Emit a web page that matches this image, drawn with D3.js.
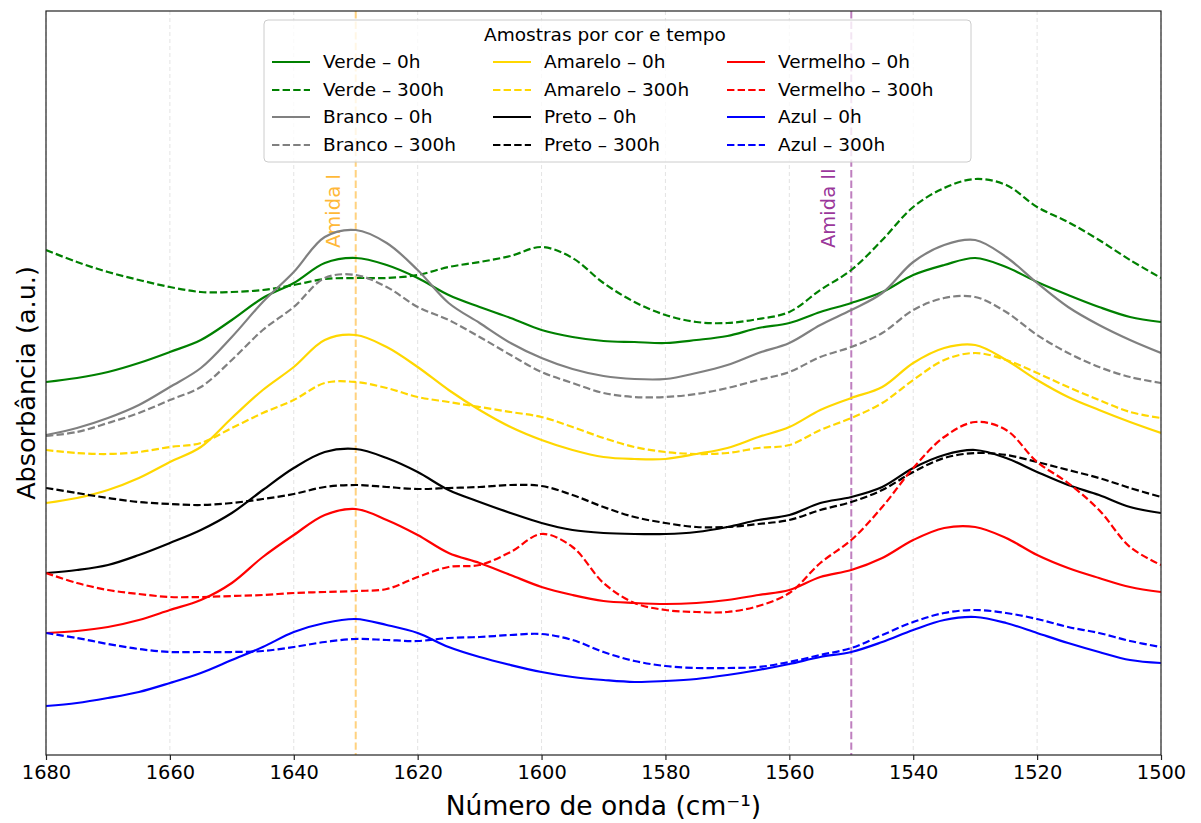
<!DOCTYPE html>
<html lang="pt">
<head>
    <meta charset="utf-8" />
    <title>Absorbância FTIR</title>
    <script src="https://cdn.jsdelivr.net/npm/d3@7"></script>
    <style>
        body { margin: 0; background: #fff; }
        svg { font-family: "DejaVu Sans", sans-serif; }
    </style>
</head>
<body>
    <div id="chart"></div>
    <script>
        // wavenumbers (cm-1), one sample every 5
        const wavenumbers = [1680, 1675, 1670, 1665, 1660, 1655, 1650, 1645, 1640, 1635, 1630, 1625, 1620,
            1615, 1610, 1605, 1600, 1595, 1590, 1585, 1580, 1575, 1570, 1565, 1560, 1555, 1550,
            1545, 1540, 1535, 1530, 1525, 1520, 1515, 1510, 1505, 1500];

        const verde0 = [.373, .377, .383, .392, .403, .415, .435, .457, .472, .492, .497, .490, .477, .460, .448, .437, .425, .418, .414, .413, .412, .415, .419, .427, .432, .443, .452, .463, .480, .490, .497, .488, .473, .460, .448, .438, .433];
        const verde300 = [.505, .493, .483, .475, .468, .463, .463, .465, .470, .476, .477, .477, .480, .488, .493, .499, .508, .497, .472, .453, .440, .433, .432, .436, .443, .465, .485, .515, .548, .567, .576, .570, .548, .533, .515, .495, .477];
        const branco0 = [.320, .327, .337, .350, .368, .387, .418, .453, .483, .518, .525, .512, .485, .452, .432, .412, .397, .386, .379, .376, .376, .382, .390, .402, .412, .430, .445, .462, .493, .510, .515, .498, .472, .448, .430, .415, .402];
        const branco300 = [.319, .323, .332, .342, .355, .368, .395, .425, .448, .477, .480, .468, .448, .435, .418, .400, .383, .372, .362, .358, .358, .361, .367, .375, .383, .398, .408, .422, .445, .457, .458, .443, .420, .402, .388, .378, .372];
        const amarelo0 = [.252, .257, .265, .277, .293, .308, .337, .365, .388, .415, .420, .408, .388, .365, .345, .328, .315, .305, .298, .296, .296, .301, .307, .318, .328, .345, .357, .368, .392, .407, .410, .395, .375, .358, .345, .333, .322];
        const amarelo300 = [.305, .302, .301, .303, .308, .312, .327, .342, .355, .372, .373, .367, .358, .353, .348, .343, .338, .328, .317, .308, .303, .301, .302, .307, .310, .325, .337, .352, .375, .395, .402, .395, .382, .368, .355, .343, .337];
        const preto0 = [.182, .185, .190, .200, .212, .225, .242, .265, .287, .303, .306, .297, .283, .265, .253, .242, .232, .225, .222, .221, .221, .223, .228, .235, .240, .252, .258, .268, .287, .300, .305, .297, .283, .270, .260, .248, .242];
        const preto300 = [.267, .262, .257, .253, .251, .250, .252, .256, .261, .268, .270, .268, .266, .267, .268, .270, .269, .260, .248, .238, .232, .228, .228, .231, .235, .245, .253, .265, .283, .297, .302, .300, .293, .285, .277, .267, .258];
        const vermelho0 = [.122, .124, .128, .135, .145, .155, .172, .198, .220, .240, .246, .235, .220, .202, .192, .180, .168, .160, .154, .152, .151, .152, .155, .160, .165, .178, .185, .197, .215, .227, .228, .217, .200, .187, .177, .168, .163];
        const vermelho300 = [.182, .172, .165, .161, .158, .158, .159, .160, .162, .163, .164, .166, .178, .188, .190, .203, .221, .208, .172, .152, .145, .143, .143, .149, .162, .192, .215, .248, .287, .318, .333, .325, .293, .272, .245, .208, .190];
        const azul0 = [.049, .052, .057, .063, .072, .082, .095, .108, .123, .132, .136, .130, .122, .108, .098, .090, .083, .078, .075, .073, .074, .076, .080, .085, .091, .098, .103, .113, .125, .135, .138, .132, .122, .112, .103, .095, .092];
        const azul300 = [.122, .117, .111, .106, .103, .103, .103, .104, .108, .113, .116, .115, .114, .117, .118, .120, .121, .115, .103, .094, .089, .087, .087, .088, .093, .100, .107, .120, .133, .142, .145, .142, .136, .128, .122, .114, .108];

        const xTicks = [1680, 1660, 1640, 1620, 1600, 1580, 1560, 1540, 1520, 1500];
        const bands = [
            { name: "Amida I", x: 1630, color: "#FFA500" },
            { name: "Amida II", x: 1550, color: "#800080" }
        ];

        // legend order follows the columns: verde, branco | amarelo, preto | vermelho, azul
        const series = [
            { label: "Verde – 0h", values: verde0, color: "green", dash: false },
            { label: "Verde – 300h", values: verde300, color: "green", dash: true },
            { label: "Branco – 0h", values: branco0, color: "gray", dash: false },
            { label: "Branco – 300h", values: branco300, color: "gray", dash: true },
            { label: "Amarelo – 0h", values: amarelo0, color: "#FFD700", dash: false },
            { label: "Amarelo – 300h", values: amarelo300, color: "#FFD700", dash: true },
            { label: "Preto – 0h", values: preto0, color: "black", dash: false },
            { label: "Preto – 300h", values: preto300, color: "black", dash: true },
            { label: "Vermelho – 0h", values: vermelho0, color: "red", dash: false },
            { label: "Vermelho – 300h", values: vermelho300, color: "red", dash: true },
            { label: "Azul – 0h", values: azul0, color: "blue", dash: false },
            { label: "Azul – 300h", values: azul300, color: "blue", dash: true }
        ];

        var width = 1201, height = 823;
        var margin = { top: 11, right: 40, bottom: 68, left: 46 };

        var svg = d3.select("#chart").append("svg")
            .attr("width", width)
            .attr("height", height);

        var x = d3.scaleLinear().domain([1680, 1500]).range([margin.left, width - margin.right]);
        var y = d3.scaleLinear().domain([0, 0.744]).range([height - margin.bottom, margin.top]);

        svg.append("clipPath").attr("id", "plot")
            .append("rect")
            .attr("x", margin.left).attr("y", margin.top)
            .attr("width", x.range()[1] - margin.left)
            .attr("height", y.range()[0] - margin.top);

        //grid lines
        svg.append("g")
            .selectAll("line")
            .data(xTicks)
            .enter().append("line")
            .attr("x1", d => x(d)).attr("x2", d => x(d))
            .attr("y1", y.range()[1]).attr("y2", y.range()[0])
            .attr("stroke", "#b0b0b0")
            .attr("stroke-opacity", 0.35)
            .attr("stroke-width", 1)
            .attr("stroke-dasharray", "4,3");

        //band markers
        svg.append("g")
            .selectAll("line")
            .data(bands)
            .enter().append("line")
            .attr("x1", d => x(d.x)).attr("x2", d => x(d.x))
            .attr("y1", y.range()[1]).attr("y2", y.range()[0])
            .attr("stroke", d => d.color)
            .attr("stroke-opacity", 0.5)
            .attr("stroke-width", 2)
            .attr("stroke-dasharray", "7.4,3.2");

        svg.append("g")
            .selectAll("text")
            .data(bands)
            .enter().append("text")
            .attr("transform", d => "translate(" + (x(d.x) - 16) + ",248) rotate(-90)")
            .attr("fill", d => d.color)
            .attr("fill-opacity", 0.8)
            .style("font-size", "19.5px")
            .text(d => d.name);

        //spectra
        var line = d3.line()
            .x((d, i) => x(wavenumbers[i]))
            .y(d => y(d))
            .curve(d3.curveCatmullRom.alpha(0.5));

        svg.append("g")
            .attr("clip-path", "url(#plot)")
            .selectAll("path")
            .data(series)
            .enter().append("path")
            .attr("d", d => line(d.values))
            .attr("fill", "none")
            .attr("stroke", d => d.color)
            .attr("stroke-width", 2.2)
            .attr("stroke-dasharray", d => d.dash ? "7.4,3.2" : null);

        //frame and axis
        svg.append("rect")
            .attr("x", margin.left).attr("y", margin.top)
            .attr("width", x.range()[1] - margin.left)
            .attr("height", y.range()[0] - margin.top)
            .attr("fill", "none")
            .attr("stroke", "#222")
            .attr("stroke-width", 1.2);

        var xAxis = svg.append("g")
            .attr("transform", "translate(0," + y.range()[0] + ")")
            .call(d3.axisBottom(x).tickValues(xTicks).tickFormat(d3.format("d")).tickSize(5).tickPadding(5));
        xAxis.select(".domain").remove();
        xAxis.selectAll("line").attr("stroke", "#222").attr("stroke-width", 1.2);
        xAxis.selectAll("text")
            .attr("fill", "#000")
            .style("font-size", "19.4px")
            .style("font-family", "DejaVu Sans");

        svg.append("text")
            .attr("x", (margin.left + x.range()[1]) / 2)
            .attr("y", 815)
            .attr("text-anchor", "middle")
            .style("font-size", "26.5px")
            .text("Número de onda (cm⁻¹)");

        svg.append("text")
            .attr("transform", "translate(35," + (margin.top + y.range()[0]) / 2 + ") rotate(-90)")
            .attr("text-anchor", "middle")
            .style("font-size", "25.5px")
            .text("Absorbância (a.u.)");

        //legend
        var legend = svg.append("g");
        legend.append("rect")
            .attr("x", 264).attr("y", 20)
            .attr("width", 707).attr("height", 142)
            .attr("rx", 4)
            .attr("fill", "#fff")
            .attr("fill-opacity", 0.8)
            .attr("stroke", "#ccc");
        legend.append("text")
            .attr("x", 605).attr("y", 41)
            .attr("text-anchor", "middle")
            .style("font-size", "18.5px")
            .text("Amostras por cor e tempo");

        var colX = [272, 493, 727];
        var rowY = [62, 90, 117, 145];
        var item = legend.selectAll(".item")
            .data(series)
            .enter().append("g")
            .attr("class", "item")
            .attr("transform", (d, i) => "translate(" + colX[Math.floor(i / 4)] + "," + rowY[i % 4] + ")");
        item.append("line")
            .attr("x1", 0).attr("x2", 38)
            .attr("stroke", d => d.color)
            .attr("stroke-width", 2.2)
            .attr("stroke-dasharray", d => d.dash ? "7.4,3.2" : null);
        item.append("text")
            .attr("x", 51)
            .attr("dy", "0.35em")
            .style("font-size", "18.5px")
            .text(d => d.label);
    </script>
</body>
</html>
